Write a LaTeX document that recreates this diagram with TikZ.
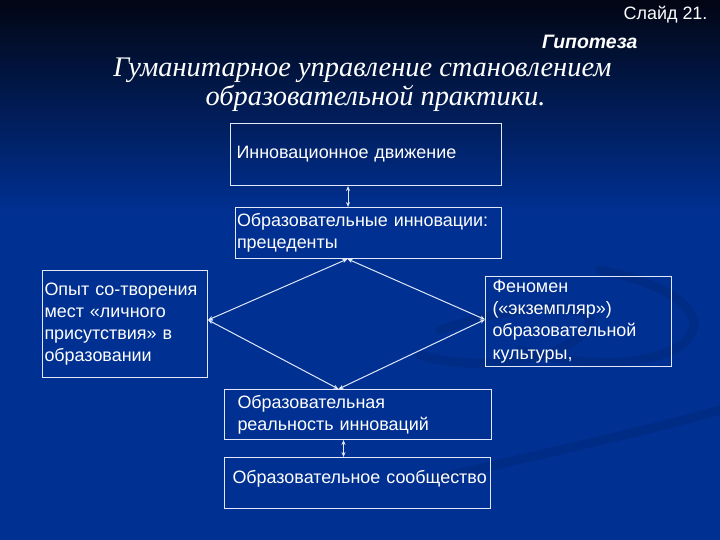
\documentclass[tikz,border=0pt]{standalone}
\usepackage{fontspec}
\setmainfont{Liberation Serif}
\setsansfont{Liberation Sans}
\usetikzlibrary{arrows.meta}

\definecolor{fonverh}{RGB}{2,6,20}
\definecolor{fonniz}{RGB}{0,48,146}
\definecolor{ramka}{RGB}{225,232,250}

\tikzset{
  blok/.style={draw=ramka, line width=1bp, text=white, align=left,
    anchor=north west, inner ysep=0pt,
    font=\sffamily\fontsize{18}{22.3}\selectfont},
  strelka/.style={ramka, line width=1bp,
    {Stealth[length=5bp,width=4bp]}-{Stealth[length=5bp,width=4bp]}},
  zavitok/.style={line width=9bp, draw=black, opacity=0.08, line cap=round}
}

\begin{document}
\begin{tikzpicture}[x=1bp, y=1bp]

    % background of the slide
    \useasboundingbox (0,0) rectangle (720,540);
    \fill[fonniz] (0,0) rectangle (720,330);
    \shade[top color=fonverh, bottom color=fonniz] (0,329) rectangle (720,540);

    % faint swirls, lower right
    \draw[zavitok] (440,210) .. controls (560,250) and (620,230) .. (575,200)
        .. controls (540,175) and (470,170) .. (420,185);
    \draw[zavitok] (600,270) .. controls (700,250) and (720,205) .. (660,185)
        .. controls (610,170) and (560,180) .. (520,190);
    \draw[zavitok] (430,60) .. controls (560,90) and (650,110) .. (720,130);

    % headings
    \node[anchor=east, text=white, font=\sffamily\fontsize{18}{20}\selectfont] (slajd) at (711,525) {Слайд 21.};
    \node[anchor=east, text=white, font=\sffamily\bfseries\itshape\fontsize{19.5}{22}\selectfont] (gipoteza) at (641,498) {Гипотеза};
    \node[text=white, font=\itshape\fontsize{28.5}{32}\selectfont] (zag1) at (362.5,470) {Гуманитарное управление становлением};
    \node[text=white, font=\itshape\fontsize{28.5}{32}\selectfont] (zag2) at (375.5,442) {образовательной практики.};

    % boxes
    \node[blok, inner xsep=6bp, text width=259bp, minimum height=62bp] (dvizhenie) at (230,417) {Инновационное движение};
    \node[blok, inner xsep=1.5bp, text width=263bp, minimum height=51bp] (precedenty) at (235,333) {Образовательные инновации:\\прецеденты};
    \node[blok, inner xsep=2bp, text width=161bp, minimum height=107bp] (opyt) at (42,270) {Опыт со-творения\\мест «личного\\присутствия» в\\образовании};
    \node[blok, inner xsep=7bp, text width=172bp, minimum height=90bp] (fenomen) at (485,264) {Феномен\\(«экземпляр»)\\образовательной\\культуры,};
    \node[blok, inner xsep=13bp, text width=241bp, minimum height=50bp] (realnost) at (224,151) {Образовательная\\реальность инноваций};
    \node[blok, inner xsep=8bp, text width=250bp, minimum height=51bp] (soobshchestvo) at (224,83) {\raisebox{4.5bp}[\height][\depth]{Образовательное сообщество}};

    % vertical links
    \draw[strelka] ([xshift=-18bp]dvizhenie.south) -- ([xshift=-18bp]dvizhenie.south |- precedenty.north);
    \draw[strelka] ([xshift=-14.5bp]realnost.south) -- ([xshift=-14.5bp]realnost.south |- soobshchestvo.north);

    % diamond
    \draw[strelka] ([xshift=-21bp]precedenty.south) -- ([yshift=4bp]opyt.east);
    \draw[strelka] ([xshift=-21bp]precedenty.south) -- ([yshift=2bp]fenomen.west);
    \draw[strelka] ([xshift=-19.5bp]realnost.north) -- ([yshift=4bp]opyt.east);
    \draw[strelka] ([xshift=-19.5bp]realnost.north) -- ([yshift=2bp]fenomen.west);

\end{tikzpicture}
\end{document}
